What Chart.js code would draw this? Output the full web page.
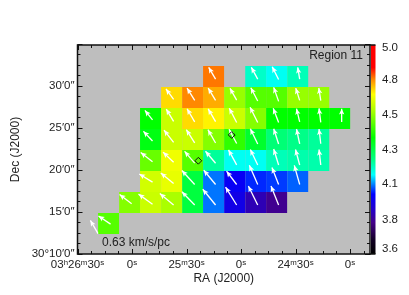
<!DOCTYPE html>
<html>
<head>
<meta charset="utf-8">
<script src="https://cdn.jsdelivr.net/npm/chart.js@4"></script>
<style>
body { margin: 0; background: #fff; }
canvas { display: block; }
</style>
</head>
<body>
<canvas id="chart" width="409" height="295"></canvas>
<script>
// RA is in seconds past 03h00m, Dec in arcminutes past 30d00m
const raColumns = [1572.9, 1561.3, 1549.8, 1538.2, 1526.6, 1515.1, 1503.5, 1491.9, 1480.4, 1468.8, 1457.2, 1445.7];
const decRows = [31.13, 28.63, 26.13, 23.63, 21.13, 18.63, 16.13, 13.63];

// one line per dec row
const cellColumns = [
    [5, 7, 8, 9],
    [3, 4, 5, 6, 7, 8, 9, 10],
    [2, 3, 4, 5, 6, 7, 8, 9, 10, 11],
    [2, 3, 4, 5, 6, 7, 8, 9, 10],
    [2, 3, 4, 5, 6, 7, 8, 9, 10],
    [2, 3, 4, 5, 6, 7, 8, 9],
    [1, 2, 3, 4, 5, 6, 7, 8],
    [0]
];
const cellValues = [
    [4.78, 4.176, 4.14, 4.19],
    [4.70, 4.77, 4.74, 4.54, 4.47, 4.47, 4.54, 4.54],
    [4.38, 4.60, 4.70, 4.68, 4.60, 4.52, 4.38, 4.38, 4.38, 4.38],
    [4.36, 4.60, 4.60, 4.52, 4.43, 4.33, 4.25, 4.23, 4.215],
    [4.49, 4.65, 4.47, 4.215, 4.14, 4.14, 4.19, 4.20, 4.20],
    [4.61, 4.64, 4.31, 4.06, 3.98, 4.02, 4.03, 4.05],
    [4.52, 4.60, 4.56, 4.31, 4.06, 3.95, 3.87, 3.82],
    [4.47]
];
// velocity gradient components in km/s/pc, towards east and north
const gradEast = [
    [0.28, 0.26, 0.26, 0.08],
    [0.31, 0.31, 0.30, 0.27, 0.28, 0.20, 0.16, 0.08],
    [0.31, 0.30, 0.31, 0.30, 0.30, 0.31, 0.22, 0.13, 0.07, 0.0],
    [0.37, 0.39, 0.34, 0.31, 0.31, 0.30, 0.20, 0.13, 0.07],
    [0.48, 0.43, 0.41, 0.41, 0.33, 0.30, 0.20, 0.17, 0.07],
    [0.54, 0.52, 0.52, 0.48, 0.41, 0.34, 0.27, 0.22],
    [0.49, 0.57, 0.56, 0.52, 0.52, 0.45, 0.38, 0.31],
    [0.49]
];
const gradNorth = [
    [0.48, 0.48, 0.52, 0.48],
    [0.43, 0.50, 0.50, 0.48, 0.54, 0.57, 0.50, 0.52],
    [0.38, 0.50, 0.53, 0.52, 0.58, 0.62, 0.58, 0.54, 0.57, 0.54],
    [0.39, 0.50, 0.54, 0.54, 0.58, 0.62, 0.62, 0.60, 0.60],
    [0.37, 0.41, 0.48, 0.49, 0.61, 0.63, 0.65, 0.63, 0.63],
    [0.33, 0.43, 0.57, 0.58, 0.54, 0.78, 0.69, 0.78],
    [0.38, 0.41, 0.46, 0.54, 0.64, 0.73, 0.77, 0.77],
    [0.33]
];
const keyGradEast = 0.31;
const keyGradNorth = 0.54;
const keyRA = 1578.7;
const keyDec = 12.42;
const markerRA = [1523.5, 1505.1];
const markerDec = [21.1, 24.17];

const raTicks = [1590, 1560, 1530, 1500, 1470, 1440];
const raLabels = ["03\u02b026\u1d5030\u02e2", "0\u02e2", "25\u1d5030\u02e2", "0\u02e2", "24\u1d5030\u02e2", "0\u02e2"];
const decTicks = [10, 15, 20, 25, 30];
const decLabels = ["30\u00b010\u20320\u2033", "15\u20320\u2033", "20\u20320\u2033", "25\u20320\u2033", "30\u20320\u2033"];
const barTicks = [3.633, 3.83, 4.07, 4.3, 4.53, 4.77, 4.98];
const barStops = [
    [3.6, "#000000"], [3.69, "#110022"], [3.81, "#440088"], [3.9, "#2200cc"], [4.0, "#0000ff"],
    [4.07, "#0088ff"], [4.13, "#00ffff"], [4.23, "#00ff88"], [4.38, "#00ff00"], [4.56, "#aaff00"],
    [4.67, "#ffff00"], [4.77, "#ff8800"], [4.85, "#ff0000"], [5.0, "#ff0000"]
];

const FONT = "'Liberation Sans', Arial, sans-serif";
const PX_PER_GRAD = 24.6;
// how far the arrow tails sit below the cell centre, per dec row
const TAIL_DROP = [3, 4, 4, 4.5, 4.5, 3, 2.5, 1];

function hexRgb(hex) {
    return [1, 3, 5].map((i) => parseInt(hex.substr(i, 2), 16));
}

function valueColor(v) {
    for (let i = 1; i < barStops.length; i++) {
        if (v <= barStops[i][0]) {
            const [v0, c0] = barStops[i - 1];
            const [v1, c1] = barStops[i];
            const t = (v - v0) / (v1 - v0);
            const a = hexRgb(c0);
            const b = hexRgb(c1);
            return "rgb(" + a.map((x, k) => Math.round(x + (b[k] - x) * t)).join(",") + ")";
        }
    }
    return barStops[barStops.length - 1][1];
}

const cellPoints = [];
decRows.forEach((dec, r) => {
    cellColumns[r].forEach((col, i) => {
        cellPoints.push({ x: raColumns[col], y: dec, v: cellValues[r][i], east: gradEast[r][i], north: gradNorth[r][i], row: r });
    });
});

function drawArrow(ctx, tx, ty, east, north) {
    const hx = tx - east * PX_PER_GRAD;
    const hy = ty - north * PX_PER_GRAD;
    const a = Math.atan2(hy - ty, hx - tx);
    ctx.strokeStyle = "#fff";
    ctx.fillStyle = "#fff";
    ctx.lineWidth = 1.3;
    ctx.beginPath();
    ctx.moveTo(tx, ty);
    ctx.lineTo(hx, hy);
    ctx.stroke();
    ctx.beginPath();
    ctx.moveTo(hx, hy);
    ctx.lineTo(hx - 6.5 * Math.cos(a - 0.42), hy - 6.5 * Math.sin(a - 0.42));
    ctx.lineTo(hx - 4.5 * Math.cos(a), hy - 4.5 * Math.sin(a));
    ctx.lineTo(hx - 6.5 * Math.cos(a + 0.42), hy - 6.5 * Math.sin(a + 0.42));
    ctx.closePath();
    ctx.fill();
}

const mapPlugin = {
    id: "mapPlugin",
    beforeDatasetsDraw(chart) {
        const { ctx, chartArea: area } = chart;
        ctx.save();
        ctx.fillStyle = "#bebebe";
        ctx.fillRect(area.left, area.top, area.right - area.left, area.bottom - area.top);
        ctx.restore();
    },
    afterDatasetsDraw(chart) {
        const { ctx, chartArea: area, scales } = chart;
        const { x, y, bar } = scales;
        ctx.save();
        cellPoints.forEach((p) => {
            const drop = Math.min(TAIL_DROP[p.row], (p.north * PX_PER_GRAD - 7) * 0.55);
            drawArrow(ctx, x.getPixelForValue(p.x) + 2, y.getPixelForValue(p.y) + drop, p.east, p.north);
        });
        drawArrow(ctx, x.getPixelForValue(keyRA), y.getPixelForValue(keyDec), keyGradEast, keyGradNorth);

        // diamonds on top of the arrows
        ctx.strokeStyle = "#111";
        ctx.lineWidth = 1;
        markerRA.forEach((ra, i) => {
            const mx = x.getPixelForValue(ra);
            const my = y.getPixelForValue(markerDec[i]);
            ctx.beginPath();
            ctx.moveTo(mx - 3.4, my);
            ctx.lineTo(mx, my - 3.4);
            ctx.lineTo(mx + 3.4, my);
            ctx.lineTo(mx, my + 3.4);
            ctx.closePath();
            ctx.stroke();
        });

        // colour bar
        const barLeft = area.right + 1;
        const grad = ctx.createLinearGradient(0, bar.getPixelForValue(3.6), 0, bar.getPixelForValue(5.0));
        barStops.forEach(([v, c]) => grad.addColorStop((v - 3.6) / 1.4, c));
        ctx.fillStyle = grad;
        ctx.fillRect(barLeft, area.top, 4.5, area.bottom - area.top);

        // inward ticks on all four sides, IDL style
        ctx.strokeStyle = "#111";
        ctx.lineWidth = 1;
        ctx.beginPath();
        for (let s = 1590; s >= 1431; s -= 7.5) {
            const px = Math.round(x.getPixelForValue(s)) + 0.5;
            const len = (s % 30 === 0) ? 5 : 3;
            ctx.moveTo(px, area.bottom);
            ctx.lineTo(px, area.bottom - len);
            ctx.moveTo(px, area.top);
            ctx.lineTo(px, area.top + len);
        }
        for (let d = 10; d <= 35; d += 1.25) {
            const py = Math.round(y.getPixelForValue(d)) + 0.5;
            const len = (d % 5 === 0) ? 5 : 3;
            ctx.moveTo(area.left, py);
            ctx.lineTo(area.left + len, py);
            ctx.moveTo(area.right, py);
            ctx.lineTo(area.right - len, py);
        }
        ctx.stroke();
        ctx.lineWidth = 1.5;
        ctx.strokeRect(area.left, area.top, area.right - area.left, area.bottom - area.top);
        ctx.beginPath();
        ctx.moveTo(area.right, area.top);
        ctx.lineTo(barLeft + 4.5, area.top);
        ctx.moveTo(area.right, area.bottom);
        ctx.lineTo(barLeft + 4.5, area.bottom);
        ctx.stroke();

        ctx.fillStyle = "#222";
        ctx.font = "12px " + FONT;
        ctx.textBaseline = "middle";
        ctx.textAlign = "right";
        ctx.fillText("Region 11", 363, 56);
        ctx.textAlign = "left";
        ctx.fillText("0.63 km/s/pc", 102, 243);
        ctx.restore();
    }
};

new Chart(document.getElementById("chart"), {
    type: "scatter",
    plugins: [mapPlugin],
    data: {
        datasets: [{
            label: "Velocity",
            data: cellPoints,
            pointStyle: "rect",
            radius: 21 / Math.SQRT2,
            borderWidth: 0,
            backgroundColor: (c) => valueColor(c.raw ? c.raw.v : 4),
            hoverRadius: 21 / Math.SQRT2
        }]
    },
    options: {
        responsive: false,
        animation: false,
        clip: false,
        layout: { padding: { top: 45, bottom: 0, left: 0, right: 0 } },
        plugins: { legend: { display: false }, tooltip: { enabled: false } },
        scales: {
            x: {
                type: "linear",
                reverse: true,
                min: 1429,
                max: 1590,
                afterBuildTicks(axis) { axis.ticks = raTicks.map((value) => ({ value })); },
                afterFit(axis) { axis.height = 41; },
                grid: { display: false, drawTicks: false },
                border: { display: false },
                title: { display: true, text: "RA (J2000)", font: { family: FONT, size: 12 }, color: "#222", padding: { top: 0, bottom: 9 } },
                ticks: {
                    autoSkip: false, maxRotation: 0, padding: 4, color: "#222",
                    font: { family: FONT, size: 11.5 },
                    callback: (v) => raLabels[raTicks.indexOf(v)]
                }
            },
            y: {
                min: 10,
                max: 34.88,
                afterBuildTicks(axis) { axis.ticks = decTicks.map((value) => ({ value })); },
                afterFit(axis) { axis.width = 77.5; },
                grid: { display: false, drawTicks: false },
                border: { display: false },
                title: { display: true, text: "Dec (J2000)", font: { family: FONT, size: 12 }, color: "#222", padding: { top: 8, bottom: 0 } },
                ticks: {
                    autoSkip: false, padding: 3, color: "#222",
                    font: { family: FONT, size: 11.5 },
                    callback: (v) => decLabels[decTicks.indexOf(v)]
                }
            },
            bar: {
                position: "right",
                min: 3.6,
                max: 5.0,
                afterBuildTicks(axis) { axis.ticks = barTicks.map((value) => ({ value })); },
                afterFit(axis) { axis.width = 39; },
                grid: { display: false, drawTicks: false },
                border: { display: false },
                ticks: {
                    autoSkip: false, padding: 12, color: "#222",
                    font: { family: FONT, size: 11.5 },
                    callback: (v) => v.toFixed(1)
                }
            }
        }
    }
});
</script>
</body>
</html>
